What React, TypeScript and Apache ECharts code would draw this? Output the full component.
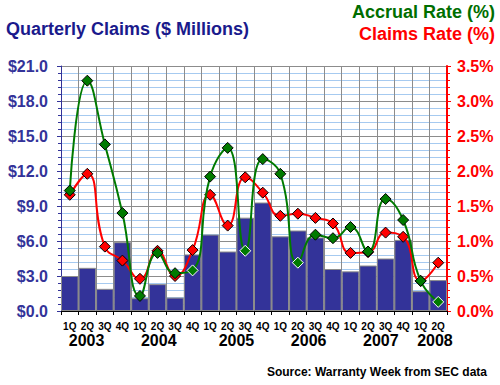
import React, { useEffect, useRef } from "react";
import * as echarts from "echarts";

const years = ["2003", "2004", "2005", "2006", "2007", "2008"];
const categories = [
  "1Q03", "2Q03", "3Q03", "4Q03",
  "1Q04", "2Q04", "3Q04", "4Q04",
  "1Q05", "2Q05", "3Q05", "4Q05",
  "1Q06", "2Q06", "3Q06", "4Q06",
  "1Q07", "2Q07", "3Q07", "4Q07",
  "1Q08", "2Q08",
];
// Quarterly claims, $ millions
const claims = [3.0, 3.7, 1.9, 5.9, 1.1, 2.3, 1.15, 4.85, 6.55, 5.1, 8.0, 9.3, 6.4, 6.9, 6.3, 3.6, 3.4, 3.9, 4.5, 6.1, 1.7, 2.65];
// Accrual rate, %
const accrualRate = [1.72, 3.29, 2.38, 1.4, 0.215, 0.83, 0.54, 0.58, 1.92, 2.33, 0.86, 2.17, 1.96, 0.69, 1.09, 1.04, 1.2, 0.85, 1.6, 1.3, 0.43, 0.13];
// Claims rate, %
const claimsRate = [1.66, 1.96, 0.92, 0.72, 0.46, 0.86, 0.5, 0.87, 1.66, 1.22, 1.91, 1.69, 1.36, 1.39, 1.33, 1.25, 0.83, 0.84, 1.12, 1.06, 0.43, 0.69];
// accrual points drawn with a white outline
const highlighted = ["4Q04", "3Q05", "2Q06", "2Q08"];

const FONT = "'Liberation Sans', Arial, sans-serif";
// layout: horizontal nudge of each year label from the centre of its quarters (px)
const yearNudge = [-9.5, -7.5, 0, 2, 4, 5.5];

export default function App() {
  const ref = useRef<HTMLDivElement>(null);
  useEffect(() => {
    if (!ref.current) return;
    const chart = echarts.init(ref.current, null, { renderer: "svg" });
    const option: any = {
      animation: false,
      backgroundColor: "#fff",
      textStyle: { fontFamily: FONT },
      grid: { left: 61, right: 53, top: 66, bottom: 74 },
      xAxis: {
        type: "category",
        data: categories,
        boundaryGap: true,
        axisLine: { lineStyle: { color: "#000", width: 1 } },
        axisTick: { show: true, length: 4, lineStyle: { color: "#000" } },
        splitLine: { show: true, lineStyle: { color: "#8c8c8c", width: 1 } },
        axisLabel: {
          interval: 0,
          margin: 10,
          color: "#000",
          fontWeight: "bold",
          fontSize: 10,
          fontFamily: FONT,
          formatter: (v: string) => v.slice(0, 2),
        },
      },
      yAxis: [
        {
          type: "value",
          position: "left",
          min: 0,
          max: 21,
          interval: 3,
          axisLine: { show: true, lineStyle: { color: "#333399", width: 1 } },
          axisTick: { show: true, length: 4, lineStyle: { color: "#333399" } },
          minorTick: { show: true, splitNumber: 5, length: 3, lineStyle: { color: "#333399" } },
          splitLine: { show: true, lineStyle: { color: "#8c8c8c", width: 1 } },
          minorSplitLine: { show: true, lineStyle: { color: "#a6caf0", width: 1 } },
          axisLabel: {
            margin: 13,
            color: "#333399",
            fontWeight: "bold",
            fontSize: 16,
            fontFamily: FONT,
            formatter: (v: number) => "$" + v.toFixed(1),
          },
        },
        {
          type: "value",
          position: "right",
          min: 0,
          max: 3.5,
          interval: 0.5,
          axisLine: { show: true, lineStyle: { color: "#ff0000", width: 2 } },
          axisTick: { show: true, length: 4, lineStyle: { color: "#ff0000" } },
          minorTick: { show: true, splitNumber: 5, length: 3, lineStyle: { color: "#ff0000" } },
          splitLine: { show: false },
          axisLabel: {
            margin: 10,
            color: "#ff0000",
            fontWeight: "bold",
            fontSize: 16,
            fontFamily: FONT,
            formatter: (v: number) => v.toFixed(1) + "%",
          },
        },
      ],
      series: [
        {
          type: "bar",
          yAxisIndex: 0,
          data: claims,
          barCategoryGap: "0%",
          itemStyle: { color: "#333399", borderColor: "#8c8c8c", borderWidth: 1 },
          z: 2,
        },
        {
          type: "line",
          yAxisIndex: 1,
          data: claimsRate,
          smooth: 0.5,
          symbol: "diamond",
          symbolSize: 11,
          lineStyle: { color: "#ff0000", width: 2 },
          itemStyle: { color: "#ff0000", borderColor: "#000", borderWidth: 1 },
          z: 3,
        },
        {
          type: "line",
          yAxisIndex: 1,
          data: accrualRate.map((v, i) =>
            highlighted.includes(categories[i])
              ? { value: v, itemStyle: { borderColor: "#fff" } }
              : v
          ),
          smooth: 0.5,
          symbol: "diamond",
          symbolSize: 11,
          lineStyle: { color: "#007a00", width: 2 },
          itemStyle: { color: "#007a00", borderColor: "#000", borderWidth: 1 },
          z: 4,
        },
      ],
    };
    chart.setOption(option);

    const graphic: any[] = [
      {
        type: "text",
        left: 6,
        top: 20,
        style: { text: "Quarterly Claims ($ Millions)", fill: "#1a1a8c", font: `bold 18px ${FONT}` },
      },
      {
        type: "text",
        right: 5,
        top: 3,
        style: { text: "Accrual Rate (%)", fill: "#006e00", font: `bold 18px ${FONT}` },
      },
      {
        type: "text",
        right: 5,
        top: 25,
        style: { text: "Claims Rate (%)", fill: "#ff0000", font: `bold 18px ${FONT}` },
      },
      {
        type: "text",
        right: 13,
        top: 366,
        style: { text: "Source: Warranty Week from SEC data", fill: "#000", font: `bold 12px ${FONT}` },
      },
    ];
    years.forEach((y, k) => {
      const idx = categories
        .map((c, i) => (c.slice(2) === y.slice(2) ? i : -1))
        .filter((i) => i >= 0);
      const x0 = chart.convertToPixel({ xAxisIndex: 0 }, idx[0]) as number;
      const x1 = chart.convertToPixel({ xAxisIndex: 0 }, idx[idx.length - 1]) as number;
      graphic.push({
        type: "text",
        x: (x0 + x1) / 2 + yearNudge[k],
        y: 340,
        style: {
          text: y,
          fill: "#000",
          font: `bold 16px ${FONT}`,
          align: "center",
          verticalAlign: "middle",
        },
      });
    });
    chart.setOption({ graphic });
    return () => chart.dispose();
  }, []);
  return (
    <div
      ref={ref}
      style={{ position: "fixed", left: 0, top: 0, width: 500, height: 385 }}
    />
  );
}
